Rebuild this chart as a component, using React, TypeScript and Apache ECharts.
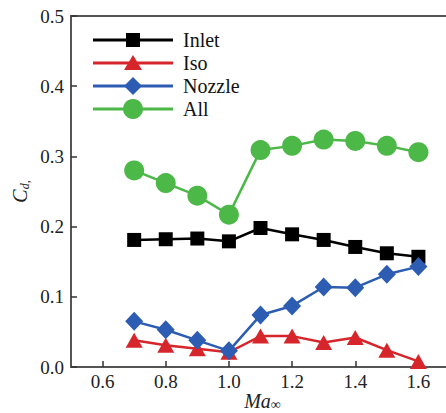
import React, { useEffect, useRef } from "react";
import * as echarts from "echarts";

const machNumbers = [0.7, 0.8, 0.9, 1.0, 1.1, 1.2, 1.3, 1.4, 1.5, 1.6];
const inletValues = [0.181, 0.182, 0.183, 0.179, 0.198, 0.189, 0.181, 0.171, 0.162, 0.157];
const isoValues = [0.038, 0.031, 0.026, 0.021, 0.044, 0.044, 0.035, 0.042, 0.024, 0.008];
const nozzleValues = [0.065, 0.053, 0.038, 0.023, 0.074, 0.087, 0.114, 0.113, 0.132, 0.143];
const allValues = [0.28, 0.262, 0.244, 0.217, 0.309, 0.315, 0.324, 0.322, 0.315, 0.306];
const xTickValues = [0.6, 0.8, 1.0, 1.2, 1.4, 1.6];
const yTickValues = [0.0, 0.1, 0.2, 0.3, 0.4, 0.5];
const seriesNames = ["Inlet", "Iso", "Nozzle", "All"];
const seriesColors = ["#000000", "#d7262b", "#2c5db2", "#4cb848"];

const FONT = "'Liberation Serif', 'Times New Roman', serif";
const TXT = "#222";

export default function App() {
  const ref = useRef<HTMLDivElement>(null);
  useEffect(() => {
    document.body.style.margin = "0";
    const chart = echarts.init(ref.current!, null, { renderer: "svg" });
    const pair = (vals: number[]) => machNumbers.map((x, i) => [x, vals[i]]);
    const axisLine = { show: true, lineStyle: { color: "#555", width: 2 } };
    chart.setOption({
      animation: false,
      backgroundColor: "#fff",
      grid: { left: 71, top: 16, width: 379, height: 351, outerBoundsMode: "none", containLabel: false },
      xAxis: [
        {
          type: "value",
          min: 0.5,
          max: 1.7,
          axisLine,
          splitLine: { show: false },
          axisTick: { show: true, inside: true, length: 6, customValues: xTickValues, lineStyle: { color: "#333", width: 1.5 } },
          axisLabel: { show: false },
        },
        {
          type: "value",
          position: "top",
          min: 0.5,
          max: 1.7,
          axisLine,
          axisTick: { show: false },
          axisLabel: { show: false },
          splitLine: { show: false },
        },
      ],
      yAxis: {
        type: "value",
        min: 0,
        max: 0.5,
        interval: 0.1,
        axisLine,
        splitLine: { show: false },
        axisTick: { show: true, inside: true, length: 6, lineStyle: { color: "#333", width: 1.5 } },
        axisLabel: { show: false },
      },
      series: [
        {
          name: "Inlet",
          type: "line",
          data: pair(inletValues),
          symbol: "rect",
          symbolSize: 14,
          lineStyle: { color: seriesColors[0], width: 2.5 },
          itemStyle: { color: seriesColors[0] },
          z: 3,
        },
        {
          name: "Iso",
          type: "line",
          data: pair(isoValues),
          symbol: "triangle",
          symbolSize: [17, 15],
          lineStyle: { color: seriesColors[1], width: 2.5 },
          itemStyle: { color: seriesColors[1] },
          z: 2,
        },
        {
          name: "Nozzle",
          type: "line",
          data: pair(nozzleValues),
          symbol: "diamond",
          symbolSize: [18, 19],
          lineStyle: { color: seriesColors[2], width: 2.5 },
          itemStyle: { color: seriesColors[2] },
          z: 4,
        },
        {
          name: "All",
          type: "line",
          data: pair(allValues),
          symbol: "circle",
          symbolSize: 20,
          lineStyle: { color: seriesColors[3], width: 2.5 },
          itemStyle: { color: seriesColors[3] },
          z: 5,
        },
      ],
    });

    // Text drawn at positions taken from the chart's own axes
    const xPix = (v: number) => chart.convertToPixel({ xAxisIndex: 0 }, v) as number;
    const yPix = (v: number) => chart.convertToPixel({ yAxisIndex: 0 }, v) as number;
    const x0 = xPix(0.5);
    const x1 = xPix(1.7);
    const y0 = yPix(0);
    const y1 = yPix(0.5);

    const graphics: any[] = [];
    xTickValues.forEach((v) => {
      graphics.push({
        type: "text",
        x: xPix(v),
        y: y0 + 14,
        style: { text: v.toFixed(1), fontFamily: FONT, fontSize: 19, fill: TXT, align: "center", verticalAlign: "middle" },
      });
    });
    yTickValues.forEach((v) => {
      graphics.push({
        type: "text",
        x: x0 - 7,
        y: yPix(v),
        style: { text: v.toFixed(1), fontFamily: FONT, fontSize: 19, fill: TXT, align: "right", verticalAlign: "middle" },
      });
    });
    graphics.push({
      type: "text",
      x: (x0 + x1) / 2 + 2,
      y: y0 + 34,
      style: {
        text: "{i|Ma}{s|∞}",
        align: "center",
        verticalAlign: "middle",
        rich: {
          i: { fontFamily: FONT, fontStyle: "italic", fontSize: 20, fill: TXT, verticalAlign: "middle" },
          s: { fontFamily: FONT, fontSize: 14, fill: TXT, verticalAlign: "bottom", padding: [6, 0, 0, 0] },
        },
      },
    });
    graphics.push({
      type: "text",
      x: 20,
      y: (y0 + y1) / 2,
      rotation: Math.PI / 2,
      style: {
        text: "{i|C}{s|d,}",
        align: "center",
        verticalAlign: "middle",
        rich: {
          i: { fontFamily: FONT, fontStyle: "italic", fontSize: 20, fill: TXT },
          s: { fontFamily: FONT, fontStyle: "italic", fontSize: 12, fill: TXT, padding: [10, 0, 0, 0] },
        },
      },
    });
    const legendX = 93;
    const legendLineW = 80;
    const legendRows = [40, 63, 86, 109];
    seriesNames.forEach((name, i) => {
      const cy = legendRows[i];
      const cx = legendX + legendLineW / 2;
      const c = seriesColors[i];
      graphics.push({
        type: "line",
        shape: { x1: legendX, y1: cy, x2: legendX + legendLineW, y2: cy },
        style: { stroke: c, lineWidth: 3 },
      });
      if (i === 0) {
        graphics.push({ type: "rect", shape: { x: cx - 7, y: cy - 7, width: 14, height: 14 }, style: { fill: c } });
      } else if (i === 1) {
        graphics.push({ type: "polygon", shape: { points: [[cx, cy - 8], [cx + 9, cy + 7], [cx - 9, cy + 7]] }, style: { fill: c } });
      } else if (i === 2) {
        graphics.push({ type: "polygon", shape: { points: [[cx, cy - 9], [cx + 9, cy], [cx, cy + 9], [cx - 9, cy]] }, style: { fill: c } });
      } else {
        graphics.push({ type: "circle", shape: { cx, cy, r: 10 }, style: { fill: c } });
      }
      graphics.push({
        type: "text",
        x: legendX + legendLineW + 10,
        y: cy,
        style: { text: name, fontFamily: FONT, fontSize: 20, fill: "#111", align: "left", verticalAlign: "middle" },
      });
    });
    chart.setOption({ graphic: graphics });

    return () => chart.dispose();
  }, []);
  return <div ref={ref} style={{ width: 446, height: 413 }} />;
}
